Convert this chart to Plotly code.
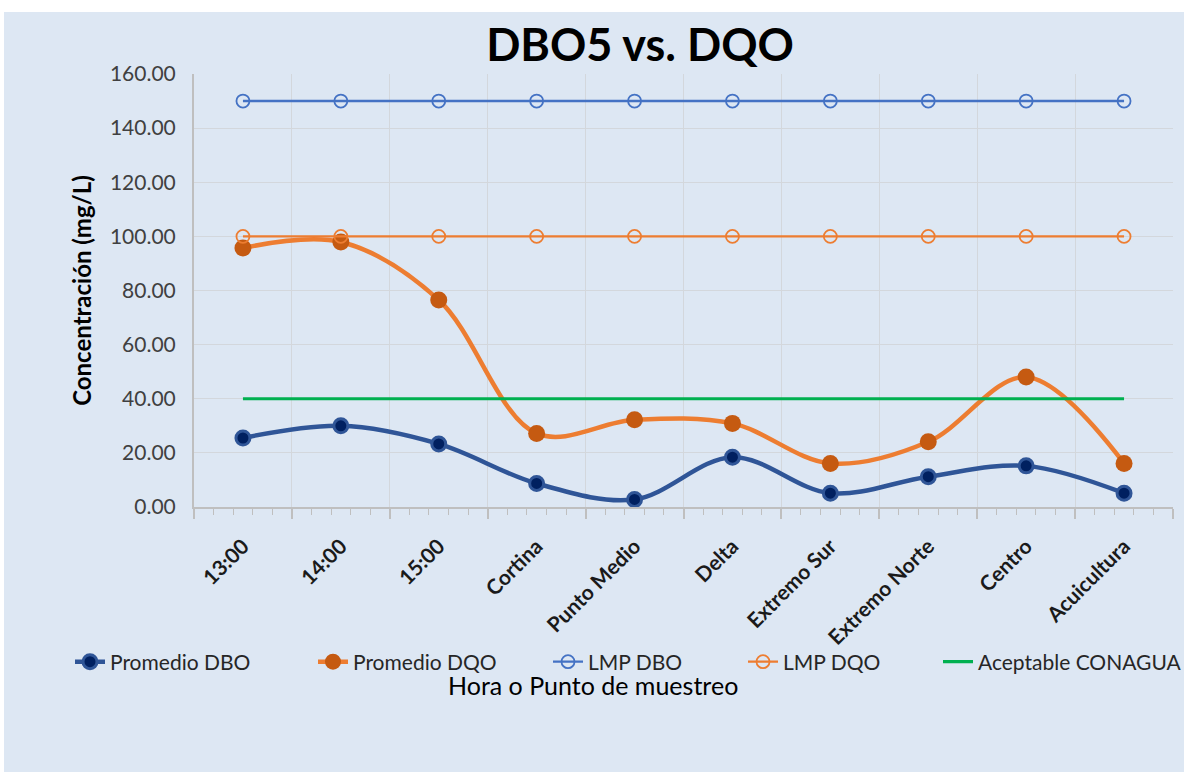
import plotly.graph_objects as go

categories = ["13:00", "14:00", "15:00", "Cortina", "Punto Medio", "Delta",
              "Extremo Sur", "Extremo Norte", "Centro", "Acuicultura"]
promedio_dbo = [25.5, 30.0, 23.3, 8.7, 2.8, 18.4, 5.1, 11.2, 15.2, 5.1]
promedio_dqo = [95.7, 97.9, 76.5, 27.2, 32.2, 30.9, 16.1, 24.1, 48.0, 16.1]
lmp_dbo = [150] * 10
lmp_dqo = [100] * 10
aceptable_conagua = [40] * 10

xpos = list(range(len(categories)))
FONT = "Lato"

L, R, T, B = 194, 11, 74, 265
W, H = 1184, 772
pw, ph = W - L - R, H - T - B


def px(xp):
    return (xp - L) / pw


def py(yp):
    return (H - B - yp) / ph


fig = go.Figure()
fig.add_trace(go.Scatter(
    x=xpos, y=promedio_dbo, name="Promedio DBO", mode="lines+markers", legend="legend",
    line=dict(color="#2F5597", width=4.5, shape="spline", smoothing=1),
    marker=dict(size=14, color="#002060", line=dict(color="#2F5597", width=3))))
fig.add_trace(go.Scatter(
    x=xpos, y=promedio_dqo, name="Promedio DQO", mode="lines+markers", legend="legend2",
    line=dict(color="#ED7D31", width=4.5, shape="spline", smoothing=1),
    marker=dict(size=17, color="#C55A11", line=dict(color="#C55A11", width=0))))
fig.add_trace(go.Scatter(
    x=xpos, y=lmp_dbo, name="LMP DBO", mode="lines+markers", legend="legend3",
    line=dict(color="#4472C4", width=2.4),
    marker=dict(size=13, symbol="circle-open", color="#4472C4", line=dict(width=1.8))))
fig.add_trace(go.Scatter(
    x=xpos, y=lmp_dqo, name="LMP DQO", mode="lines+markers", legend="legend4",
    line=dict(color="#ED7D31", width=2.4),
    marker=dict(size=13, symbol="circle-open", color="#ED7D31", line=dict(width=1.8))))
fig.add_trace(go.Scatter(
    x=xpos, y=aceptable_conagua, name="Aceptable CONAGUA", mode="lines", legend="legend5",
    line=dict(color="#00B050", width=3.2)))

# invisible trace carrying category labels on overlay axis
fig.add_trace(go.Scatter(x=xpos, y=[None] * len(xpos), xaxis="x2", showlegend=False,
                         hoverinfo="skip", mode="markers"))

fig.add_shape(type="rect", xref="paper", yref="paper", layer="below",
              x0=px(4), x1=px(1190), y0=py(772), y1=py(12),
              fillcolor="#DDE7F3", line=dict(width=0))

LEGFONT = dict(family=FONT, size=21, color="#262626")


def leg(xpix):
    return dict(orientation="h", x=px(xpix), xanchor="left", y=py(662), yanchor="middle",
                bgcolor="rgba(0,0,0,0)", font=LEGFONT, itemwidth=30)


fig.update_layout(
    width=W, height=H,
    margin=dict(l=L, r=R, t=T, b=B, autoexpand=False),
    paper_bgcolor="white", plot_bgcolor="#DDE7F3",
    title=dict(text="<b>DBO5 vs. DQO</b>", x=640 / W, xanchor="center",
               y=1 - 45 / H, yanchor="middle",
               font=dict(family=FONT, size=45, color="black")),
    font=dict(family=FONT, color="#404040"),
    xaxis=dict(range=[-0.5, 9.5], tick0=-0.5, dtick=1, showticklabels=False,
               showgrid=True, gridcolor="#D3D7DC", gridwidth=1.2,
               ticks="outside", ticklen=10, tickcolor="#BFBFBF", tickwidth=1.5,
               showline=True, linecolor="#BFBFBF", linewidth=2, zeroline=False,
               minor=dict(dtick=0.2, tick0=-0.5, ticks="outside", ticklen=6,
                          tickcolor="#BFBFBF", tickwidth=1.2, showgrid=False)),
    xaxis2=dict(range=[-0.5, 9.5], overlaying="x", anchor="y", side="bottom",
                tickmode="array", tickvals=xpos, ticktext=categories,
                tickangle=-45, showgrid=False, ticks="", showline=False,
                zeroline=False, ticklabelstandoff=22,
                tickfont=dict(family=FONT, size=21, color="#1a1a1a", weight="bold")),
    yaxis=dict(range=[0, 160], dtick=20, tickformat=".2f",
               showgrid=True, gridcolor="#D3D7DC", gridwidth=1.2,
               showline=True, linecolor="#BFBFBF", linewidth=2, zeroline=False,
               ticks="", ticklabelstandoff=12,
               tickfont=dict(family=FONT, size=21, color="#404040"),
               title=dict(text="<b>Concentración (mg/L)</b>", standoff=12,
                          font=dict(family=FONT, size=24, color="black"))),
    legend=leg(70), legend2=leg(313), legend3=leg(548), legend4=leg(743), legend5=leg(938),
    showlegend=True,
)

fig.add_annotation(text="Hora o Punto de muestreo", xref="paper", yref="paper",
                   x=px(593), y=py(685), xanchor="center", yanchor="middle",
                   showarrow=False, font=dict(family=FONT, size=25, color="black"))

fig.write_html("out.html", config={"displayModeBar": False},
               post_script="document.body.style.margin='0px';")
